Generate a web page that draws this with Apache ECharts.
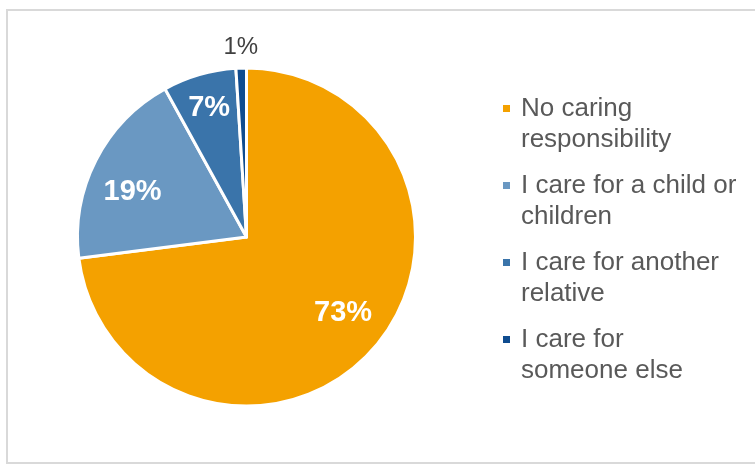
<!DOCTYPE html>
<html>
<head>
<meta charset="utf-8">
<script src="https://cdn.jsdelivr.net/npm/echarts@6/dist/echarts.min.js"></script>
<style>
  html, body { margin: 0; padding: 0; background: #fff; }
  #wrap { position: relative; width: 755px; height: 464px; overflow: hidden; }
  #frame { position: absolute; left: 6px; top: 9px; width: 800px; height: 455px;
           border-left: 2px solid #D9D9D9; border-top: 2px solid #D9D9D9; border-bottom: 2px solid #D9D9D9; box-sizing: border-box; }
  #chart { position: absolute; left: 0; top: 0; width: 755px; height: 464px; }
</style>
</head>
<body>
<div id="wrap">
  <div id="frame"></div>
  <div id="chart"></div>
</div>
<script>
// ---- data ----
const categories = ['No caring responsibility', 'I care for a child or children', 'I care for another relative', 'I care for someone else'];
const legendLines = ['No caring\nresponsibility', 'I care for a child or\nchildren', 'I care for another\nrelative', 'I care for\nsomeone else'];
const values = [73, 19, 7, 1];
const colors = ['#F4A100', '#6A98C2', '#3A74AA', '#0F4C8F'];
// label nudges (dx, dy) from default inside position
const labelShift = [[31, 18], [-36, -5], [-13, -45], [-3, -102]];

const chart = echarts.init(document.getElementById('chart'), null, { renderer: 'canvas' });

const data = categories.map((name, i) => {
  const d = { name: name, value: values[i], itemStyle: { color: colors[i] } };
  if (i === 3) {
    d.label = { color: '#404040', fontWeight: 'normal', fontSize: 24 };
  }
  return d;
});

chart.setOption({
  animation: false,
  legend: {
    orient: 'vertical',
    left: 501,
    top: 62,
    padding: 0,
    icon: 'rect',
    itemWidth: 9,
    itemHeight: 9,
    itemGap: -16,
    selectedMode: false,
    formatter: function (name) { return '\n' + legendLines[categories.indexOf(name)]; },
    textStyle: {
      fontFamily: 'Liberation Sans, Arial, sans-serif',
      fontSize: 26,
      color: '#595959',
      lineHeight: 31,
      padding: [0, 0, 0, 5]
    },
    data: categories
  },
  series: [{
    type: 'pie',
    center: [246.5, 237],
    radius: [0, 169],
    startAngle: 90,
    clockwise: true,
    silent: true,
    itemStyle: { borderColor: '#ffffff', borderWidth: 3 },
    label: {
      show: true,
      position: 'inside',
      formatter: '{c}%',
      fontFamily: 'Liberation Sans, Arial, sans-serif',
      fontSize: 29,
      fontWeight: 'bold',
      color: '#ffffff'
    },
    labelLine: { show: false },
    labelLayout: function (params) {
      const s = labelShift[params.dataIndex];
      return { dx: s[0], dy: s[1] };
    },
    data: data
  }]
});
</script>
</body>
</html>
